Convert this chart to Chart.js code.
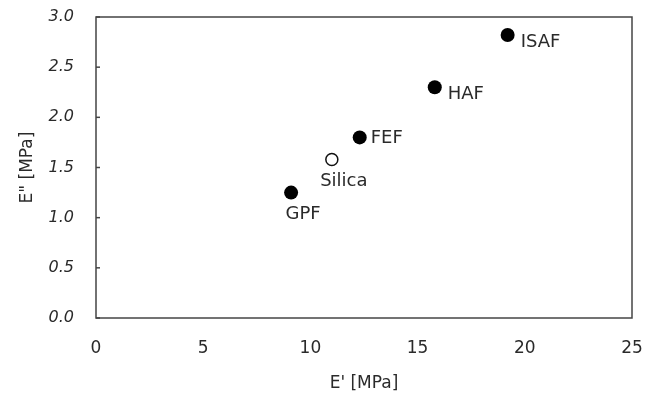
<!DOCTYPE html>
<html>
<head>
<meta charset="utf-8">
<script src="https://cdn.jsdelivr.net/npm/chart.js@4"></script>
<style>
  html, body { margin: 0; padding: 0; background: #fff; }
  #wrap { width: 646px; height: 399px; }
</style>
</head>
<body>
<div id="wrap"><canvas id="chart" width="646" height="399"></canvas></div>
<script>
// Carbon black / silica fillers: E' vs E''
const fillers = ['GPF', 'Silica', 'FEF', 'HAF', 'ISAF'];
const storageModulus = [9.1, 11.0, 12.3, 15.8, 19.2];   // E' [MPa]
const lossModulus = [1.25, 1.58, 1.80, 2.30, 2.82];     // E'' [MPa]
const isOpen = [false, true, false, false, false];
const xTicks = [0, 5, 10, 15, 20, 25];
const yTicks = [0, 0.5, 1.0, 1.5, 2.0, 2.5, 3.0];

const FONT = '"DejaVu Sans", sans-serif';
const INK = '#2a2a2a';

function pointsFor(open) {
    const pts = [];
    for (let i = 0; i < fillers.length; i++) {
        if (isOpen[i] === open) pts.push({ x: storageModulus[i], y: lossModulus[i], name: fillers[i] });
    }
    return pts;
}

// where each name sits relative to its point
const labelPlace = { GPF: 'below', Silica: 'below', FEF: 'right', HAF: 'rightLow', ISAF: 'rightLow' };

const framePlugin = {
    id: 'frame',
    afterDatasetsDraw(chart) {
        const ctx = chart.ctx;
        const a = chart.chartArea;
        const ys = chart.scales.y;
        ctx.save();
        ctx.strokeStyle = '#444';
        ctx.lineWidth = 1.5;
        ctx.strokeRect(a.left, a.top, a.right - a.left, a.bottom - a.top);
        // inward tick marks on the left axis
        yTicks.forEach(function(v) {
            const py = ys.getPixelForValue(v);
            ctx.beginPath();
            ctx.moveTo(a.left, py);
            ctx.lineTo(a.left + 4, py);
            ctx.stroke();
        });
        ctx.restore();
    }
};

const namePlugin = {
    id: 'names',
    afterDatasetsDraw(chart) {
        const ctx = chart.ctx;
        const xs = chart.scales.x, ys = chart.scales.y;
        ctx.save();
        ctx.font = '18px ' + FONT;
        ctx.fillStyle = INK;
        ctx.textBaseline = 'middle';
        for (let i = 0; i < fillers.length; i++) {
            const px = xs.getPixelForValue(storageModulus[i]);
            const py = ys.getPixelForValue(lossModulus[i]);
            const place = labelPlace[fillers[i]];
            if (place === 'below') {
                ctx.textAlign = 'center';
                ctx.fillText(fillers[i], px + 12, py + 22);
            } else if (place === 'rightLow') {
                ctx.textAlign = 'left';
                ctx.fillText(fillers[i], px + 13, py + 7);
            } else {
                ctx.textAlign = 'left';
                ctx.fillText(fillers[i], px + 11, py + 1);
            }
        }
        ctx.restore();
    }
};

new Chart(document.getElementById('chart'), {
    type: 'scatter',
    data: {
        datasets: [{
            label: 'carbon black',
            data: pointsFor(false),
            pointRadius: 7,
            pointHoverRadius: 7,
            backgroundColor: '#000',
            borderColor: '#000',
            borderWidth: 0
        }, {
            label: 'silica',
            data: pointsFor(true),
            pointRadius: 6,
            pointHoverRadius: 6,
            backgroundColor: '#fff',
            borderColor: '#111',
            borderWidth: 1.5
        }]
    },
    options: {
        responsive: false,
        animation: false,
        layout: { padding: { top: 17, right: 14, left: 0, bottom: 0 } },
        plugins: {
            legend: { display: false },
            tooltip: { enabled: false }
        },
        scales: {
            x: {
                type: 'linear',
                min: 0,
                max: 25,
                afterBuildTicks: function(scale) {
                    scale.ticks = xTicks.map(function(v) { return { value: v }; });
                },
                afterFit: function(scale) {
                    scale.height = 81;
                    scale.paddingLeft = 0;
                    scale.paddingRight = 0;
                },
                border: { display: false },
                grid: { display: false, drawTicks: false },
                ticks: {
                    padding: 20,
                    color: INK,
                    font: { family: FONT, size: 17 }
                },
                title: {
                    display: true,
                    text: "E' [MPa]",
                    color: INK,
                    font: { family: FONT, size: 17 },
                    padding: { top: 6, bottom: 5 }
                }
            },
            y: {
                type: 'linear',
                min: 0,
                max: 3,
                afterBuildTicks: function(scale) {
                    scale.ticks = yTicks.map(function(v) { return { value: v }; });
                },
                afterFit: function(scale) {
                    scale.width = 96;
                    scale.paddingTop = 0;
                    scale.paddingBottom = 0;
                },
                border: { display: false },
                grid: { display: false, drawTicks: false },
                ticks: {
                    padding: 22,
                    color: INK,
                    font: { family: FONT, size: 16, style: 'italic' },
                    callback: function(v) { return v.toFixed(1); }
                },
                title: {
                    display: true,
                    text: 'E" [MPa]',
                    color: INK,
                    font: { family: FONT, size: 17 },
                    padding: { top: 17, bottom: 0 }
                }
            }
        }
    },
    plugins: [framePlugin, namePlugin]
});
</script>
</body>
</html>
